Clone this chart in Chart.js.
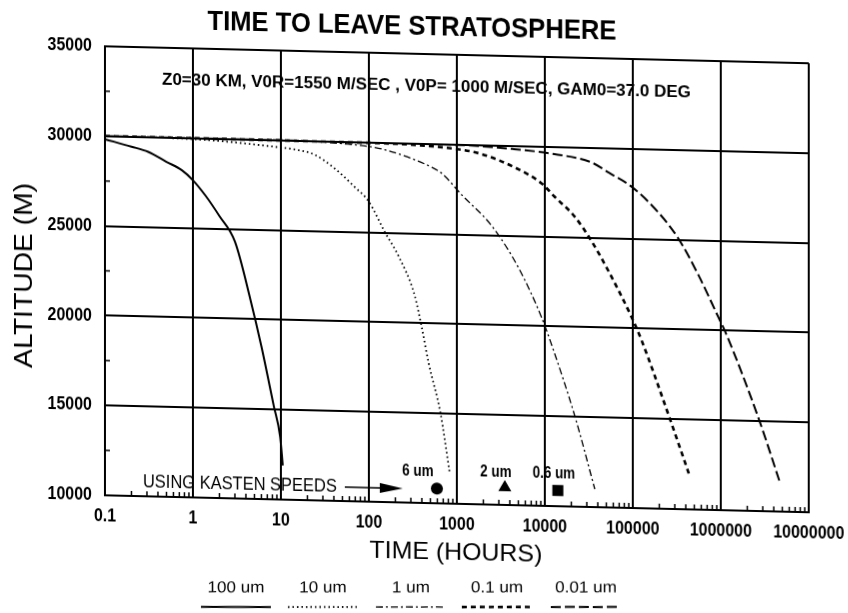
<!DOCTYPE html>
<html><head><meta charset="utf-8">
<script src="https://cdn.jsdelivr.net/npm/chart.js@4.4.1/dist/chart.umd.min.js"></script>
<style>
html,body{margin:0;padding:0;background:#fff;overflow:hidden;width:848px;height:613px;}
#wrap{position:absolute;left:0;top:0;width:848px;height:640px;transform-origin:424px 306.5px;transform:skewY(1.38deg);}
canvas{display:block;}
</style></head><body>
<div id="wrap"><canvas id="c" width="848" height="640"></canvas></div>
<script>
// ---------- data ----------
const xTickValues = [0.1, 1, 10, 100, 1000, 10000, 100000, 1000000, 10000000];
const xTickLabels = ['0.1', '1', '10', '100', '1000', '10000', '100000', '1000000', '10000000'];
const yTickValues = [10000, 15000, 20000, 25000, 30000, 35000];
const yTickLabels = ['10000', '15000', '20000', '25000', '30000', '35000'];
const yMinorValues = [12500, 17500, 22500, 27500, 32500];

const seriesNames = ['100 um', '10 um', '1 um', '0.1 um', '0.01 um'];

const t100 = [0.1, 0.2, 0.31, 0.5, 0.75, 1, 1.4, 2, 3, 4.5, 6, 8.3, 9.8, 10.5];
const a100 = [29830, 29450, 29180, 28650, 28200, 27660, 26800, 25700, 24300, 21100, 18500, 15200, 13500, 11900];

const t10 = [0.1, 1, 10, 15, 24, 41, 69, 100, 151, 218, 331, 398, 478, 650, 833];
const a10 = [30000, 29950, 29600, 29500, 29250, 28500, 27500, 26700, 25050, 23700, 21560, 19800, 17800, 15050, 11650];

const t1 = [0.1, 10, 50, 141, 520, 676, 1140, 2510, 5050, 9240, 12000, 21900, 37000];
const a1 = [30000, 30000, 29900, 29650, 28700, 28370, 27200, 25500, 23200, 20460, 18950, 15050, 11000];

const t01 = [0.1, 100, 1000, 1920, 4570, 9240, 12900, 21900, 34200, 53300, 97500, 126000, 256000, 433000];
const a01 = [30000, 29980, 29750, 29500, 28800, 27940, 27230, 26140, 24780, 23130, 20600, 19340, 15200, 12000];

const t001 = [0.1, 1000, 4270, 12900, 34200, 53300, 97500, 197000, 331000, 562000, 948000, 1110000, 2690000, 4680000];
const a001 = [30000, 29980, 29830, 29600, 29180, 28640, 27880, 26470, 25050, 23020, 20700, 20000, 15160, 11650];

const markerLabels = ['6 um', '2 um', '0.6 um'];
const markerT = [593, 3510, 14060];
const markerAlt = [10820, 10975, 10875];
const kastenAt = [243, 10780];

const titleText = 'TIME TO LEAVE STRATOSPHERE';
const noteText = 'Z0=30 KM, V0R=1550 M/SEC , V0P= 1000 M/SEC, GAM0=37.0 DEG';
const kastenText = 'USING KASTEN SPEEDS';
const xTitle = 'TIME (HOURS)';
const yTitle = 'ALTITUDE (M)';

// ---------- styling ----------
const SKEW = Math.tan(1.38 * Math.PI / 180);
const SANS = "'Liberation Sans',Arial,sans-serif";
const NARROW_X = 0.84;
const styles = [
  {w: 2.0, dash: []},
  {w: 1.8, dash: [1.5, 3]},
  {w: 1.3, dash: [7, 3, 2, 3]},
  {w: 2.6, dash: [5, 4]},
  {w: 2.0, dash: [10, 4]}
];
const pts = (t, a) => t.map((v, i) => ({x: v, y: a[i]}));
const lineSets = [[t100, a100], [t10, a10], [t1, a1], [t01, a01], [t001, a001]];

const datasets = lineSets.map((s, i) => ({
  label: seriesNames[i],
  data: pts(s[0], s[1]),
  showLine: true,
  borderColor: '#000',
  borderWidth: styles[i].w,
  borderDash: styles[i].dash,
  pointRadius: 0,
  fill: false,
  cubicInterpolationMode: 'monotone'
}));
const mStyles = [['circle', 6], ['triangle', 7.5], ['rect', 7.8]];
markerLabels.forEach((lab, i) => datasets.push({
  label: lab,
  data: [{x: markerT[i], y: markerAlt[i]}],
  showLine: false,
  pointStyle: mStyles[i][0],
  pointRadius: mStyles[i][1],
  backgroundColor: '#000',
  borderColor: '#000',
  borderWidth: 0
}));

function scaledText(ctx, text, x, y, font, sxOrW, align, isWidth) {
  ctx.font = font;
  const sx = isWidth === false ? sxOrW : sxOrW / ctx.measureText(text).width;
  ctx.save();
  ctx.translate(x, y);
  ctx.scale(sx, 1);
  ctx.textAlign = align || 'center';
  ctx.textBaseline = 'middle';
  ctx.fillText(text, 0, 0);
  ctx.restore();
}

const overlay = {
  id: 'overlay',
  afterDraw(chart) {
    const {ctx, chartArea: a, scales: {x, y}} = chart;
    ctx.save();
    ctx.strokeStyle = '#000';
    ctx.fillStyle = '#000';
    ctx.lineWidth = 1.5;
    ctx.setLineDash([]);
    // minor ticks (inward)
    for (let d = -1; d < 7; d++) {
      for (let m = 2; m <= 9; m++) {
        const px = x.getPixelForValue(m * Math.pow(10, d));
        ctx.beginPath(); ctx.moveTo(px, a.bottom); ctx.lineTo(px, a.bottom - 5); ctx.stroke();
      }
    }
    yMinorValues.forEach(v => {
      const py = y.getPixelForValue(v);
      ctx.beginPath(); ctx.moveTo(a.left, py); ctx.lineTo(a.left + 5, py); ctx.stroke();
    });
    // tick labels (condensed)
    xTickValues.forEach((v, i) => {
      scaledText(ctx, xTickLabels[i], x.getPixelForValue(v), a.bottom + 21, 'bold 19px ' + SANS, NARROW_X, 'center', false);
    });
    yTickValues.forEach((v, i) => {
      scaledText(ctx, yTickLabels[i], a.left - 13, y.getPixelForValue(v), 'bold 19px ' + SANS, NARROW_X, 'right', false);
    });
    // title and note
    scaledText(ctx, titleText, 412, 27, 'bold 28px ' + SANS, 409);
    scaledText(ctx, noteText, 426.5, 86.5, 'bold 16px ' + SANS, 529);
    // axis titles
    scaledText(ctx, xTitle, 456, 552, '24px ' + SANS, 173);
    ctx.save();
    ctx.translate(25, 285);
    ctx.rotate(-Math.PI / 2);
    scaledText(ctx, yTitle, 0, 0, '25px ' + SANS, 185);
    ctx.restore();
    // Kasten arrow
    const kx = x.getPixelForValue(kastenAt[0]);
    const ky = y.getPixelForValue(kastenAt[1]);
    ctx.lineWidth = 1.5;
    ctx.beginPath(); ctx.moveTo(kx - 58, ky); ctx.lineTo(kx - 20, ky); ctx.stroke();
    ctx.beginPath(); ctx.moveTo(kx, ky); ctx.lineTo(kx - 23, ky - 5); ctx.lineTo(kx - 23, ky + 5); ctx.closePath(); ctx.fill();
    scaledText(ctx, kastenText, kx - 66, ky + 0.5, '18px ' + SANS, 194, 'right');
    // marker labels
    const offs = [[-19, -17], [-9, -15], [-4, -16.5]];
    markerLabels.forEach((lab, i) => {
      const px = x.getPixelForValue(markerT[i]);
      const py = y.getPixelForValue(markerAlt[i]);
      scaledText(ctx, lab, px + offs[i][0], py + offs[i][1], 'bold 16px ' + SANS, NARROW_X, 'center', false);
    });
    // legend (drawn un-skewed)
    ctx.save();
    ctx.transform(1, -SKEW, 0, 1, 0, SKEW * 424);
    const centers = [236, 323, 411, 497, 586];
    ctx.font = '16px ' + SANS;
    const sx = 57 / ctx.measureText(seriesNames[0]).width;
    seriesNames.forEach((n, i) => {
      scaledText(ctx, n, centers[i], 588, '16px ' + SANS, sx, 'center', false);
      ctx.lineWidth = styles[i].w;
      ctx.setLineDash(styles[i].dash);
      ctx.beginPath(); ctx.moveTo(centers[i] - 35, 607); ctx.lineTo(centers[i] + 35, 607); ctx.stroke();
    });
    ctx.restore();
    ctx.restore();
  }
};

new Chart(document.getElementById('c'), {
  type: 'scatter',
  data: {datasets},
  options: {
    responsive: false,
    animation: false,
    devicePixelRatio: 1,
    layout: {padding: {top: 54, right: 39, left: 0, bottom: 0}},
    plugins: {legend: {display: false}, tooltip: {enabled: false}, title: {display: false}},
    scales: {
      x: {
        type: 'logarithmic', min: 0.1, max: 10000000,
        afterBuildTicks: s => { s.ticks = xTickValues.map(v => ({value: v})); },
        afterFit: s => { s.height = 640 - 503; },
        ticks: {display: false, autoSkip: false, maxRotation: 0},
        grid: {color: '#000', lineWidth: 2, drawTicks: false},
        border: {display: true, color: '#000', width: 2}
      },
      y: {
        type: 'linear', min: 10000, max: 35000,
        afterBuildTicks: s => { s.ticks = yTickValues.map(v => ({value: v})); },
        afterFit: s => { s.width = 105; },
        ticks: {display: false},
        grid: {color: '#000', lineWidth: 2, drawTicks: false},
        border: {display: true, color: '#000', width: 2}
      }
    }
  },
  plugins: [overlay]
});
</script>
</body></html>
